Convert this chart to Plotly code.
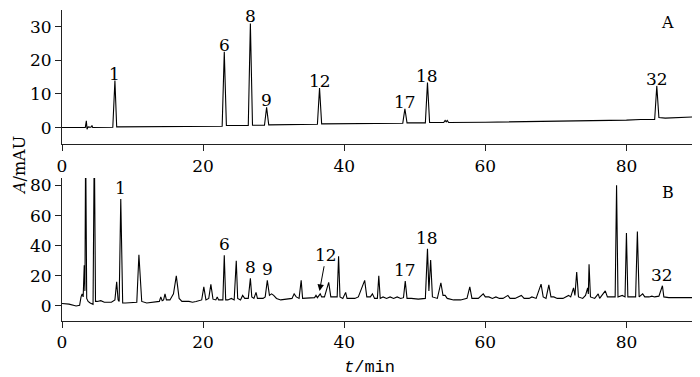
import plotly.graph_objects as go
from plotly.subplots import make_subplots

# ---- Chromatogram A (traced vertices: time / min, absorbance / mAU) ----
t_A = [0, 3.3, 3.45, 3.55, 3.7, 4.1, 4.25, 4.35, 7.2, 7.5, 7.75, 15, 20, 22.7, 23.0, 23.3,
       26.4, 26.7, 27.0, 28.7, 29.0, 29.3, 36.2, 36.5, 36.8, 45, 48.3, 48.6, 48.9,
       51.5, 51.8, 52.1, 54.1, 54.3, 54.45, 54.6, 54.8, 60, 70, 80, 82, 84.0, 84.3,
       84.6, 85.5, 88, 90]
A_A = [0, 0, 2, -0.5, 0.2, 0.1, 0.6, 0, 0.1, 14, 0.2, 0.2, 0.3, 0.4, 22.6, 0.6,
       0.6, 31, 0.7, 0.7, 6, 0.8, 1.0, 11.8, 1.1, 1.2, 1.3, 5.6, 1.4,
       1.4, 13.4, 1.5, 1.5, 2.1, 1.7, 2.1, 1.5, 1.6, 1.8, 2.2, 2.4, 2.4, 12.4,
       3.0, 2.8, 3.0, 3.2]

labels_A = ["1", "6", "8", "9", "12", "17", "18", "32"]
label_t_A = [7.5, 23.0, 26.7, 29.0, 36.5, 48.6, 51.8, 84.3]
label_h_A = [14, 22.6, 31, 6, 11.8, 5.6, 13.4, 12.4]

# ---- Chromatogram B ----
t_B = [0, 1.0, 2.0, 2.5, 2.7, 2.85, 3.0, 3.15, 3.25, 3.35, 3.5, 3.7, 4.0, 4.4, 4.58, 4.75,
       5.0, 5.5, 6, 7, 7.5, 7.75, 7.95, 8.1, 8.33, 8.6, 9, 10, 10.6, 10.9, 11.3, 12, 13,
       13.8, 14.0, 14.2, 14.4, 14.6, 14.8, 15.3, 15.8, 16.2, 16.6, 17, 18, 18.5, 19,
       19.8, 20.1, 20.4, 20.8, 21.1, 21.4, 21.8, 22.0, 22.2, 22.8, 23.0, 23.2, 23.5, 24,
       24.4, 24.7, 24.9, 25.3, 25.6, 25.9, 26.2, 26.4, 26.7, 26.9, 27.2, 27.5, 27.7,
       28.2, 28.5, 28.8, 29.1, 29.4, 29.7, 30.0, 30.4, 31, 32, 32.6, 32.9, 33.2, 33.6,
       33.9, 34.1, 35, 35.8, 36.0, 36.2, 36.6, 36.8, 37.2, 37.8, 38.1, 38.5, 39.0, 39.2,
       39.4, 39.8, 40.2, 40.4, 41, 41.5, 42.0, 42.9, 43.2, 43.7, 44.0, 44.3, 44.7, 44.9,
       45.1, 45.5, 46, 46.5, 47, 47.5, 48.0, 48.4, 48.65, 48.9, 49.5, 50.5, 51.5, 51.8,
       52.0, 52.25, 52.5, 53.2, 53.7, 54.0, 54.3, 54.6, 55.5, 56.5, 57.4, 57.8, 58.1,
       59.0, 59.7, 60.0, 60.5, 61, 61.5, 62, 62.5, 63.2, 63.5, 64.2, 65.1, 65.5, 66.2,
       66.6, 67.2, 67.9, 68.2, 68.6, 69.0, 69.3, 69.7, 70.2, 71.0, 71.8, 72.1, 72.5,
       72.7, 72.95, 73.2, 73.8, 74.2, 74.5, 74.6, 74.7, 74.9, 75.5, 76.0, 76.2, 77.0,
       77.3, 78.0, 78.4, 78.6, 78.8, 79.4, 79.8, 80.0, 80.2, 80.8, 81.3, 81.55, 81.8,
       82.3, 82.6, 83.2, 83.6, 84.0, 84.6, 85.1, 85.3, 86, 87, 88, 88.5, 90]
A_B = [1.6, 1.2, 0, 0.5, 6, 8, 6, 27, 10, 110, 5, 3, 2, 1, 110, 3,
       3, 3.5, 2.5, 2.5, 4, 16, 4, 3, 71, 2, 2, 2, 2.5, 34, 3, 2, 2.5,
       3, 6, 3.5, 4, 8, 4, 4, 8, 20, 5, 3, 3, 2.5, 3,
       4, 12.7, 4, 5, 14.3, 4.5, 4, 6, 4, 4, 33.7, 4, 4, 5,
       4, 30, 5, 4, 7, 5, 5, 5, 18.3, 6, 5, 9, 5,
       5, 5, 6, 17, 7, 8, 7, 5, 4, 4.5, 5, 8, 6, 5,
       17, 5, 5, 5.5, 7, 5.5, 8, 6, 6, 15.6, 6, 6, 6, 33,
       6, 5, 9, 5, 5, 5, 6, 17, 6, 6, 8, 5, 5, 20,
       5, 6, 5, 6, 5, 6, 5, 5.5, 16.5, 5, 5, 4.5, 5, 38,
       10, 30.5, 6, 5, 15.4, 7, 7, 5, 4, 4, 5, 12.7, 5,
       5, 8, 6, 6, 5, 6, 5, 5, 7, 5, 5, 7, 5, 5,
       6, 5, 14.5, 6, 5, 14, 6, 6, 5, 5, 7, 6, 12,
       7, 22.5, 6, 5, 7, 12, 8, 27.7, 6, 5, 8, 5, 10,
       6, 6, 6, 80.2, 6, 7, 6, 48.4, 6, 6, 6, 49.5, 6,
       8, 6, 6, 6.5, 6, 6.5, 13.4, 6, 5.5, 5.5, 6, 5.5, 5.5]

labels_B = ["1", "6", "8", "9", "17", "18", "32"]
label_t_B = [8.33, 23.0, 26.7, 29.1, 48.65, 51.8, 85.1]
label_h_B = [71, 33.7, 18.3, 17, 16.5, 38, 13.4]

arrow_label_B = "12"
arrow_target_B = (36.5, 10.0)
arrow_tail_B = (37.45, 34)

x_ticks = [0, 20, 40, 60, 80]
y_ticks_A = [0, 10, 20, 30]
y_ticks_B = [0, 20, 40, 60, 80]

SERIF = "DejaVu Serif"
FS = 17

fig = make_subplots(rows=2, cols=1, vertical_spacing=0.11)
fig.add_trace(go.Scatter(x=t_A, y=A_A, mode="lines",
                         line=dict(color="black", width=1.1), showlegend=False), row=1, col=1)
fig.add_trace(go.Scatter(x=t_B, y=A_B, mode="lines",
                         line=dict(color="black", width=1.1), showlegend=False), row=2, col=1)

annotations = []
for lab, t, h in zip(labels_A, label_t_A, label_h_A):
    annotations.append(dict(x=t, y=h, xref="x", yref="y", text=lab, showarrow=False,
                            xanchor="center", yanchor="bottom", yshift=-4, borderpad=0,
                            font=dict(family=SERIF, size=FS, color="black")))
for lab, t, h in zip(labels_B, label_t_B, label_h_B):
    annotations.append(dict(x=t, y=h, xref="x2", yref="y2", text=lab, showarrow=False,
                            xanchor="center", yanchor="bottom", yshift=-1,
                            font=dict(family=SERIF, size=FS, color="black")))
annotations.append(dict(x=arrow_target_B[0], y=arrow_target_B[1], xref="x2", yref="y2",
                        ax=arrow_tail_B[0], ay=arrow_tail_B[1], axref="x2", ayref="y2",
                        text=arrow_label_B, showarrow=True, arrowhead=2, arrowsize=1.3,
                        arrowwidth=1, arrowcolor="black", standoff=0, startstandoff=0,
                        font=dict(family=SERIF, size=FS, color="black")))
annotations.append(dict(x=0.954, y=0.959, xref="paper", yref="paper", text="A", showarrow=False,
                        xanchor="center", yanchor="middle",
                        font=dict(family=SERIF, size=16, color="black")))
annotations.append(dict(x=0.954, y=0.4125, xref="paper", yref="paper", text="B", showarrow=False,
                        xanchor="center", yanchor="middle",
                        font=dict(family=SERIF, size=16, color="black")))
annotations.append(dict(x=0.485, y=-0.148, xref="paper", yref="paper",
                        text="<i>t</i>/min", showarrow=False,
                        xanchor="center", yanchor="middle",
                        font=dict(family="Liberation Mono", size=17, color="black")))
annotations.append(dict(x=-0.085, y=0.50, xref="paper", yref="paper",
                        xanchor="left", yanchor="middle",
                        text="<i>A</i>/mAU", showarrow=False, textangle=-90,
                        font=dict(family=SERIF, size=16, color="black")))

axis_common = dict(showline=True, linecolor="#222", linewidth=1, ticks="outside",
                   ticklen=6, tickcolor="#222", showgrid=False, zeroline=False,
                   automargin=False,
                   tickfont=dict(family=SERIF, size=FS, color="black"))

fig.update_xaxes(range=[0, 90], tickvals=x_ticks, **axis_common)
fig.update_yaxes(**axis_common)
fig.update_yaxes(range=[-5, 35], tickvals=y_ticks_A, row=1, col=1)
fig.update_yaxes(range=[-10, 85], tickvals=y_ticks_B, row=2, col=1)
fig.update_layout(yaxis=dict(domain=[0.568, 1.0]), yaxis2=dict(domain=[0.0, 0.46]))

fig.update_layout(width=700, height=377, margin=dict(l=54, r=11, t=2, b=64),
                  paper_bgcolor="white", plot_bgcolor="white",
                  annotations=annotations)

fig.write_html("out.html")
